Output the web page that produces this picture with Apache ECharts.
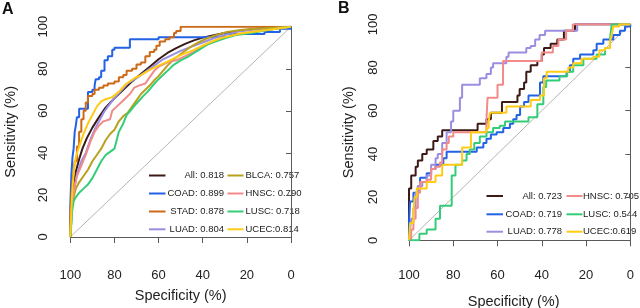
<!DOCTYPE html>
<html><head><meta charset="utf-8">
<script src="https://cdn.jsdelivr.net/npm/echarts@6/dist/echarts.min.js"></script>
<style>html,body{margin:0;padding:0;background:#fff}#c{width:640px;height:308px}</style>
</head><body><div id="c"></div>
<script>
// ---------- data: [specificity %, sensitivity %] ----------
const xTicks = [0, 20, 40, 60, 80, 100];
const yTicks = [0, 20, 40, 60, 80, 100];
const DIAG = [[100, 0], [0, 100]];

// Panel A
const A_ALL = [[100,0],[99.6,10],[99.2,18],[98.5,25],[97.5,31],[96,37],[94.5,42],[92.5,47],[90,52],[87,57],[84,61.5],[80,66],[76,70],[72,74],[68,77.5],[64,81],[60,84.5],[56,87.5],[52,89.8],[48,91.8],[44,93.5],[40,94.8],[35,96],[30,97],[24,98],[16,99],[8,99.6],[0,100]];
const A_COAD = [[100,0],[100,15],[99.5,30],[99,38],[98.5,42],[98,50],[97.5,53],[97,57],[96,61],[92,69],[90,70],[89,72],[88.5,75],[87,76],[86,79],[84.5,84],[83,86],[81,89],[80,90],[73,94],[60,95],[40,95.5],[30,96.5],[12,97.5],[5,99],[0,100]];
const A_STAD = [[100,0],[100,10],[99.5,20],[99,27],[98.5,31],[98,36],[97,43],[96,50],[95,56],[94,60],[93,64],[92,67],[90,68],[89,70],[87,71],[85,72],[83,73],[80,74],[78,76],[76,77],[74.5,79],[72,80],[70,82],[68,83],[66,86],[64,88],[62,89],[61,91],[59.5,93],[57,94],[55,95],[53,97],[52,98],[50,100],[0,100]];
const A_LUAD = [[100,0],[99.5,8],[99,18],[98,24],[97,30],[95,36],[93,40],[91,46],[89,51],[87,55],[85,59],[83,62],[80,66],[77,69.5],[74,73],[70,75.5],[66,78.5],[62,81.5],[58,84.5],[54,86.5],[50,88.5],[45,90.5],[40,92.5],[35,94.5],[30,96],[25,97.5],[18,98.5],[10,99.2],[0,100]];
const A_BLCA = [[100,0],[99.7,8],[99.3,14],[98.5,19],[97.5,23],[96,26],[94,29],[92,32],[90,36],[88,39],[86,42],[84,46],[82,49],[80,51],[78,55],[76,57.5],[74,59],[72,62],[70,65],[68,68],[66,70],[64,72],[62,74.5],[60,76.5],[58,79],[56,81.5],[53,84.5],[50,87],[46,90],[42,92.5],[38,94.5],[34,96],[29,97.5],[22,98.5],[12,99.3],[0,100]];
const A_HNSC = [[100,0],[99.5,10],[99,18],[98,24],[97,29],[95,34],[93,39],[91,45],[89,50],[87,53],[85,55],[82,56],[81,60],[79,62],[77,64],[75,66],[73,68],[71,71],[69,72],[66,73],[64,76],[62,79],[60,81],[58,82],[55,83.5],[52,84],[48,86],[44,88],[40,90.5],[36,92.5],[32,94],[26,96],[18,97.5],[10,98.5],[0,100]];
const A_LUSC = [[100,0],[99.6,5],[99.2,12],[98.5,17],[97.5,19],[96,21],[94,23],[92,25],[90,28],[88,32],[86,36],[84,39],[82,40.5],[80,42],[79,46],[78,50],[76,54],[74.5,58],[72,61],[70,63.5],[67,67],[65,69],[63,71.5],[61,74],[58,77],[56,79],[53,82],[50,84],[47,85.5],[44,87.5],[41,89.5],[38,91.5],[34,93],[30,94.5],[25,96],[18,97],[10,98.5],[0,100]];
const A_UCEC = [[100,0],[99.6,10],[99.3,18],[98.8,26],[98.2,33],[97.5,38],[96,43],[94,49],[92,54],[90,58],[88,62],[86,64.5],[84,65.5],[81,66.5],[78,69],[75,72.5],[71,75.5],[68,77],[64,79.5],[61,81],[56,83.4],[50,86.5],[44,89],[38,92],[32,94.5],[23,96.8],[11,98.4],[0,100]];

// Panel B (step curves)
const B_ALL = [[100,0],[100,24],[99,30],[97,34],[96,37],[94,40],[92,42],[89,46],[87,48],[85,51],[69,54],[65,56],[63,59],[58,64],[51,67],[50,70],[48,73],[47,78],[45,81],[42,83],[40,86],[39,89],[36,91],[33,93],[30,97],[25,100],[0,100]];
const B_COAD = [[100,0],[100,8],[99.5,18],[98,22],[96,25],[95,29],[92,31],[90,33],[88,35],[84.5,38],[83,41],[69.4,43],[66.4,45],[65,47],[63,49],[60.4,50],[57.4,52],[54.4,54],[52.9,56],[51.4,58],[49.8,62],[48,64],[46,67],[40.8,73],[39.3,76],[28.8,78],[27.3,81],[25.8,84],[22.7,86],[16.7,88],[15.2,91],[12.2,93],[7.7,95],[4.7,97],[2.4,99],[0,100]];
const B_LUAD = [[100,0],[99.5,5],[99,10],[98,15],[97,22],[96,25],[94,27],[92,30],[90,35],[88,38],[87,40],[85,45],[83,50],[81,55],[80,60],[77,66],[76,72],[68,75],[65,77],[63,80],[62,82],[56,85],[55,87],[47,89],[45,90],[43,93],[41,95],[38.5,97],[24,100],[0,100]];
const B_HNSC = [[100,0],[99,5],[98,10],[97,15],[96,22],[95,27],[92,28],[90,33],[88,34],[86,36],[85,42],[83,45],[82,48],[80,50],[65,56],[64.5,66],[60,72],[57.5,83],[40,87],[35,90],[32.5,93],[29,97],[26,100],[0,100]];
const B_LUSC = [[100,0],[95.3,3],[92,5],[88,10],[86,16],[80.7,30],[79,35],[76,37],[74,40],[72.5,42],[70.5,45],[68,48],[65,50],[62,52],[59,53],[56.6,55],[46,57],[42,63],[39.3,71],[38,74],[32,76],[28.5,78],[25.8,81],[21.2,84],[15.2,86],[11.4,89],[9.2,93],[8.4,100],[0,100]];
const B_UCEC = [[100,0],[99.5,8],[98,13],[97.5,20],[96.5,24],[92,27],[88,30],[85,35],[76,43],[72,50],[65,52],[64,55],[63.4,59],[56,62],[45,65],[40.8,67],[39,75],[37.8,78],[28,80],[25.8,82],[22,84],[16.7,85],[14,88],[11.4,89],[9.2,92],[8.4,95],[7.7,99],[5,100],[0,100]];

const A_NAMES = ['All','COAD','STAD','LUAD','BLCA','HNSC','LUSC','UCEC'];
const A_LABELS = ['All: 0.818','COAD: 0.899','STAD: 0.878','LUAD: 0.804','BLCA: 0.757','HNSC: 0.790','LUSC: 0.718','UCEC:0.814'];
const B_NAMES = ['All','COAD','LUAD','HNSC','LUSC','UCEC'];
const B_LABELS = ['All: 0.723','COAD: 0.719','LUAD: 0.778','HNSC: 0.705','LUSC: 0.544','UCEC:0.619'];

const COLORS = {All:'#3c1a16', COAD:'#2262e6', STAD:'#cc6a18', LUAD:'#9a8ee0', BLCA:'#b9a01e', HNSC:'#f28a8a', LUSC:'#34cc78', UCEC:'#ffcb14'};

// ---------- chart ----------
const FONT = '"Liberation Sans", Arial, sans-serif';
const A_DATA = {All:A_ALL, COAD:A_COAD, STAD:A_STAD, LUAD:A_LUAD, BLCA:A_BLCA, HNSC:A_HNSC, LUSC:A_LUSC, UCEC:A_UCEC};
const A_STEP = {COAD:'end', STAD:'end'};
const B_DATA = {All:B_ALL, COAD:B_COAD, LUAD:B_LUAD, HNSC:B_HNSC, LUSC:B_LUSC, UCEC:B_UCEC};
const DRAW_A = ['All','COAD','STAD','LUAD','BLCA','HNSC','LUSC','UCEC'];
const DRAW_B = ['All','COAD','LUAD','HNSC','LUSC','UCEC'];

const axisCol = '#5a5a5a';
function xAx(grid, offset, margin, gap, namePad) {
  return {gridIndex: grid, type:'value', min: xTicks[0], max: xTicks[xTicks.length-1], interval: xTicks[1]-xTicks[0], inverse:true,
    offset: offset, splitLine:{show:false},
    axisLine:{lineStyle:{color:axisCol, width:1}}, axisTick:{length:6, lineStyle:{color:axisCol}},
    axisLabel:{fontSize:13, color:'#222', margin:margin, fontFamily:FONT},
    name:'Specificity (%)', nameLocation:'middle', nameGap:gap, nameTextStyle:{fontSize:14.5, color:'#222', fontFamily:FONT, padding:namePad}};
}
function yAx(grid, offset, margin, gap) {
  return {gridIndex: grid, type:'value', min: yTicks[0], max: yTicks[yTicks.length-1], interval: yTicks[1]-yTicks[0],
    offset: offset, splitLine:{show:false},
    axisLine:{show:true, lineStyle:{color:axisCol, width:1}}, axisTick:{show:true, length:5, lineStyle:{color:axisCol}},
    axisLabel:{fontSize:13, color:'#222', margin:margin, rotate:90, fontFamily:FONT},
    name:'Sensitivity (%)', nameLocation:'middle', nameGap:gap, nameRotate:90, nameTextStyle:{fontSize:14.5, color:'#222', fontFamily:FONT}};
}

const series = [];
series.push({type:'line', xAxisIndex:0, yAxisIndex:0, data:DIAG, symbol:'none', lineStyle:{color:'#b4b4b4', width:1}, silent:true, z:1});
series.push({type:'line', xAxisIndex:1, yAxisIndex:1, data:DIAG, symbol:'none', lineStyle:{color:'#b4b4b4', width:1}, silent:true, z:1});
DRAW_A.forEach(n => series.push({type:'line', name:'A '+n, xAxisIndex:0, yAxisIndex:0, data:A_DATA[n], symbol:'none',
  step: A_STEP[n] || false, lineStyle:{color:COLORS[n], width:2}, silent:true, animation:false}));
DRAW_B.forEach(n => series.push({type:'line', name:'B '+n, xAxisIndex:1, yAxisIndex:1, data:B_DATA[n], symbol:'none',
  step:'end', lineStyle:{color:COLORS[n], width:2}, silent:true, animation:false}));

// legends (graphic)
const graphic = [];
function legendItem(x1, x2, y, color, label, tx, align, fs) {
  graphic.push({type:'line', shape:{x1:x1, y1:y, x2:x2, y2:y}, style:{stroke:color, lineWidth:2}, silent:true});
  graphic.push({type:'text', x:tx, y:y, style:{text:label, fill:'#222', font:fs+'px '+FONT, textAlign:align, textVerticalAlign:'middle', align:align, verticalAlign:'middle'}, silent:true});
}
const aRows = [175.5, 193.5, 211.5, 229.3];
A_NAMES.forEach((n, i) => {
  const col = Math.floor(i / 4), row = i % 4;
  if (col === 0) legendItem(149, 165.5, aRows[row], COLORS[n], A_LABELS[i], 224, 'right', 9.5);
  else legendItem(227.5, 243.5, aRows[row], COLORS[n], A_LABELS[i], 245.5, 'left', 9.5);
});
const bRows = [196, 214.3, 231.7];
B_NAMES.forEach((n, i) => {
  const col = Math.floor(i / 3), row = i % 3;
  if (col === 0) legendItem(486.5, 503, bRows[row], COLORS[n], B_LABELS[i], 562, 'right', 9.5);
  else legendItem(566.5, 582.5, bRows[row], COLORS[n], B_LABELS[i], 583, 'left', 9.5);
});
graphic.push({type:'text', x:2, y:10, style:{text:'A', fill:'#111', font:'bold 16px '+FONT, textVerticalAlign:'middle', verticalAlign:'middle'}});
graphic.push({type:'text', x:338, y:9, style:{text:'B', fill:'#111', font:'bold 16px '+FONT, textVerticalAlign:'middle', verticalAlign:'middle'}});

const chart = echarts.init(document.getElementById('c'), null, {renderer:'canvas'});
chart.setOption({
  animation:false,
  backgroundColor:'#fff',
  textStyle:{fontFamily:FONT},
  grid:[
    {left:70.3, width:220.7, top:26.7, height:210.3, containLabel:false, outerBoundsMode:'none'},
    {left:409, width:221.3, top:24.3, height:216, containLabel:false, outerBoundsMode:'none'}
  ],
  xAxis:[xAx(0, 9.7, 22, 42, 0), xAx(1, 18, 11, 36, [0, 12, 0, 0])],
  yAxis:[yAx(0, 7.6, 13, 44), yAx(1, 9, 20, 44)],
  series: series,
  graphic: graphic
});
</script>
</body></html>
